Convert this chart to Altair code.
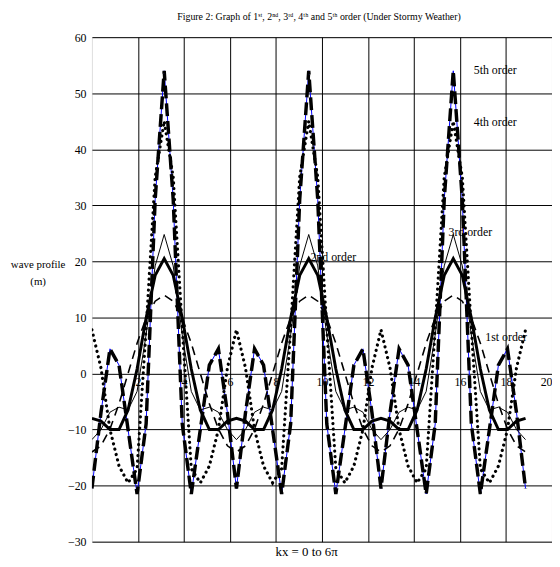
import altair as alt
import pandas as pd

# kx sample positions (0 to 6*pi, step pi/8)
kx = [0, 0.393, 0.785, 1.178, 1.571, 1.963, 2.356, 2.749, 3.142, 3.534, 3.927, 4.320,
      4.712, 5.105, 5.498, 5.890, 6.283, 6.676, 7.069, 7.461, 7.854, 8.247, 8.639, 9.032,
      9.425, 9.817, 10.210, 10.603, 10.996, 11.388, 11.781, 12.174, 12.566, 12.959, 13.352,
      13.744, 14.137, 14.530, 14.923, 15.315, 15.708, 16.101, 16.493, 16.886, 17.279,
      17.671, 18.064, 18.457, 18.850]

first_order = [-14, -12.9, -9.9, -5.4, 0, 5.4, 9.9, 12.9, 14, 12.9, 9.9, 5.4, 0, -5.4, -9.9, -12.9,
               -14, -12.9, -9.9, -5.4, 0, 5.4, 9.9, 12.9, 14, 12.9, 9.9, 5.4, 0, -5.4, -9.9, -12.9,
               -14, -12.9, -9.9, -5.4, 0, 5.4, 9.9, 12.9, 14, 12.9, 9.9, 5.4, 0, -5.4, -9.9, -12.9,
               -14]
second_order = [-8, -8.5, -10, -10, -6.5, 0.8, 9.9, 17.5, 20.5, 17.5, 9.9, 0.8, -6.5, -10, -10, -8.5,
                -8, -8.5, -10, -10, -6.5, 0.8, 9.9, 17.5, 20.5, 17.5, 9.9, 0.8, -6.5, -10, -10, -8.5,
                -8, -8.5, -10, -10, -6.5, 0.8, 9.9, 17.5, 20.5, 17.5, 9.9, 0.8, -6.5, -10, -10, -8.5,
                -8]
third_order = [-11.8, -10, -6.9, -6, -6.5, -3.2, 6.9, 19.2, 24.8, 19.2, 6.9, -3.2, -6.5, -6, -6.9, -10,
               -11.8, -10, -6.9, -6, -6.5, -3.2, 6.9, 19.2, 24.8, 19.2, 6.9, -3.2, -6.5, -6, -6.9, -10,
               -11.8, -10, -6.9, -6, -6.5, -3.2, 6.9, 19.2, 24.8, 19.2, 6.9, -3.2, -6.5, -6, -6.9, -10,
               -11.8]
fourth_order = [7.8, 1, -10, -16.5, -19.5, -17, 8, 35, 45, 35, 8, -17, -19.5, -16.5, -10, 1,
                7.8, 1, -10, -16.5, -19.5, -17, 8, 35, 45, 35, 8, -17, -19.5, -16.5, -10, 1,
                7.8, 1, -10, -16.5, -19.5, -17, 8, 35, 45, 35, 8, -17, -19.5, -16.5, -10, 1,
                7.8]
fifth_order = [-20.5, -7, 4.4, 1.5, -10, -21.5, -9, 31, 54, 31, -9, -21.5, -10, 1.5, 4.4, -7,
               -20.5, -7, 4.4, 1.5, -10, -21.5, -9, 31, 54, 31, -9, -21.5, -10, 1.5, 4.4, -7,
               -20.5, -7, 4.4, 1.5, -10, -21.5, -9, 31, 54, 31, -9, -21.5, -10, 1.5, 4.4, -7,
               -20.5]

label_text = ["5th order", "4th order", "3rd order", "2nd order", "1st order"]
label_x = [16.6, 16.6, 15.5, 9.5, 17.1]
label_y = [54.2, 44.9, 25.2, 20.8, 6.5]

x_ticks = [2, 4, 6, 8, 10, 12, 14, 16, 18, 20]
y_ticks = [-30, -20, -10, 0, 10, 20, 30, 40, 50, 60]

FONT = "Liberation Serif"

x_scale = alt.Scale(domain=[0, 20], nice=False, zero=False)
y_scale = alt.Scale(domain=[-30, 60], nice=False, zero=False)

x_axis = alt.Axis(values=x_ticks, offset=-170, domain=False, ticks=False, grid=True,
                  gridColor="#000000", gridWidth=1, labelFont=FONT, labelFontSize=12,
                  labelColor="black", labelPadding=3, labelOverlap=False,
                  title="kx = 0 to 6π", titleFont=FONT, titleFontSize=13,
                  titleFontWeight="normal", titleColor="black", titleY=184,
                  titleBaseline="alphabetic", titleX=217)
y_axis = alt.Axis(values=y_ticks, domain=False, ticks=False, grid=True,
                  gridColor="#000000", gridWidth=1, labelFont=FONT, labelFontSize=12,
                  labelColor="black", labelPadding=6, labelOverlap=False,
                  title=["wave profile", "(m)"], titleAngle=0, titleAlign="center",
                  titleBaseline="alphabetic", titleX=-55, titleY=233, titleFont=FONT,
                  titleFontSize=11, titleFontWeight="normal", titleColor="black",
                  titleLineHeight=18)

df = pd.DataFrame({"kx": kx, "o1": first_order, "o2": second_order, "o3": third_order,
                   "o4": fourth_order, "o5": fifth_order})


def line(col, **style):
    return alt.Chart(df).mark_line(clip=True, **style).encode(
        x=alt.X("kx:Q", scale=x_scale, axis=x_axis),
        y=alt.Y(f"{col}:Q", scale=y_scale, axis=y_axis),
    )


blue = line("o5", color="#0000ff", strokeWidth=1)
l1 = line("o1", color="black", strokeWidth=1.6, strokeDash=[9, 6])
l2 = line("o2", color="black", strokeWidth=3)
l3 = line("o3", color="black", strokeWidth=1)
l4 = line("o4", color="black", strokeWidth=3.2, strokeDash=[0.1, 5.5], strokeCap="round")
l5 = line("o5", color="black", strokeWidth=3.5, strokeDash=[13, 5])

labels_df = pd.DataFrame({"t": label_text, "x": label_x, "y": label_y})
labels = alt.Chart(labels_df).mark_text(align="left", baseline="middle", font=FONT,
                                         fontSize=12, color="black").encode(
    x=alt.X("x:Q", scale=x_scale), y=alt.Y("y:Q", scale=y_scale), text="t:N")

chart = alt.layer(blue, l1, l2, l3, l4, l5, labels).properties(
    width=466, height=511,
    padding={"left": 85, "top": 26, "right": 0, "bottom": 14},
    autosize=alt.AutoSizeParams(type="none"),
    title=alt.TitleParams(
        text="Figure 2: Graph of 1ˢᵗ, 2ⁿᵈ, 3ʳᵈ, 4ᵗʰ and 5ᵗʰ order (Under Stormy Weather)",
        font=FONT, fontSize=10, fontWeight="normal", color="black", anchor="middle",
        frame="group", baseline="alphabetic", offset=15, dx=-3, dy=14),
).configure_view(stroke="black", strokeWidth=1).configure(background="white")

chart.save("out.html", embed_options={"renderer": "svg", "actions": False})
